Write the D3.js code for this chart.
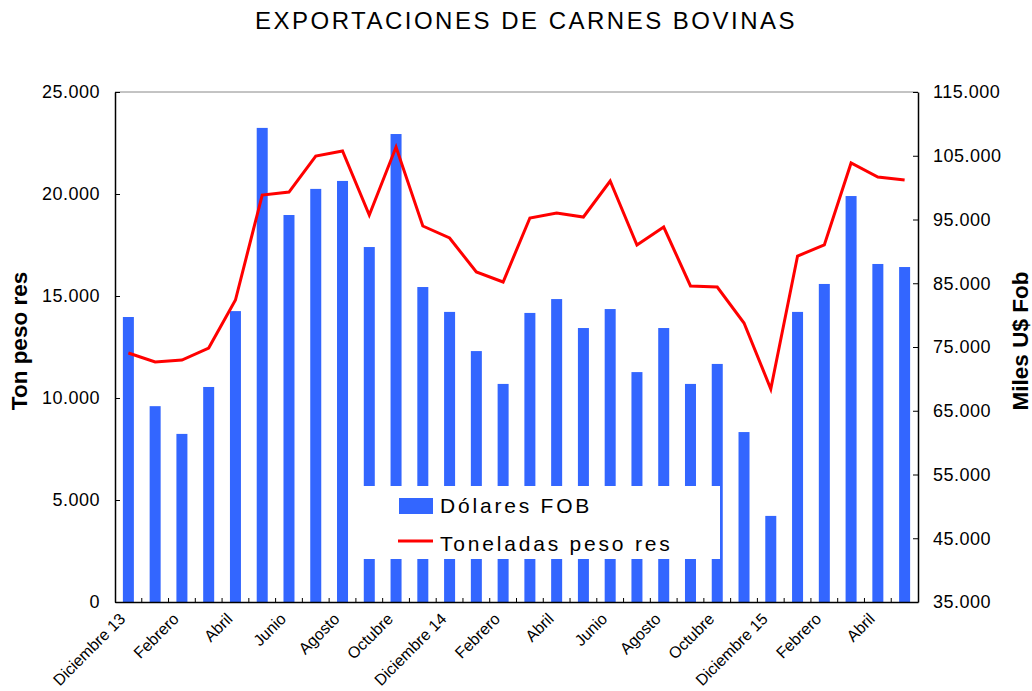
<!DOCTYPE html>
<html>
<head>
<meta charset="utf-8">
<script src="https://cdn.jsdelivr.net/npm/d3@7"></script>
<style>
body{margin:0;background:#fff;}
svg{display:block;}
text{font-family:"Liberation Sans",Arial,sans-serif;fill:#000;}
</style>
</head>
<body>
<div id="chart"></div>
<script>
"use strict"
//---Exportaciones de carnes bovinas---

var meses = ["Diciembre 13","Enero","Febrero","Marzo","Abril","Mayo","Junio","Julio","Agosto","Septiembre","Octubre","Noviembre",
	"Diciembre 14","Enero","Febrero","Marzo","Abril","Mayo","Junio","Julio","Agosto","Septiembre","Octubre","Noviembre",
	"Diciembre 15","Enero","Febrero","Marzo","Abril","Mayo"];

//barras (eje izq)
var dolaresFob = [13970,9600,8240,10540,14260,23240,18970,20250,20640,17400,22940,15440,
	14220,12300,10690,14170,14850,13430,14360,11270,13430,10690,11670,8330,
	4220,14220,15590,19900,16570,16420];

//linea (eje der)
var toneladas = [74060,72650,72960,74840,82370,98840,99310,104960,105750,95710,106370,93980,
	92100,86760,85200,95240,96020,95390,101040,91000,93820,84570,84410,78760,
	68410,89270,91000,103860,101670,101200];

var ticksIzq = [0,5000,10000,15000,20000,25000],
	ticksDer = [35000,45000,55000,65000,75000,85000,95000,105000,115000];

var margin = {top:92, right:114, bottom:89, left:115},
	W = 1032, H = 691,
	width = W - margin.left - margin.right,
	height = H - margin.top - margin.bottom;

var fmt = function(v){ return d3.format(",")(v).replace(/,/g,"."); };

var svg = d3.select('#chart').append('svg')
	.attr('width',W)
	.attr('height',H);

svg.append('text')
	.attr('x',526).attr('y',29)
	.attr('text-anchor','middle')
	.style('font-size','24px')
	.style('letter-spacing','2.5px')
	.text('EXPORTACIONES DE CARNES BOVINAS');

var g = svg.append('g').attr('transform','translate('+margin.left+','+margin.top+')');

var x = d3.scaleBand().domain(d3.range(meses.length)).range([0,width]).paddingInner(0).paddingOuter(0);
var yL = d3.scaleLinear().domain([0,25000]).range([height,0]);
var yR = d3.scaleLinear().domain([35000,115000]).range([height,0]);

var bw = 11;

g.selectAll('rect.bar')
	.data(dolaresFob)
	.enter().append('rect')
		.attr('class','bar')
		.attr('x',function(d,i){ return x(i)+x.bandwidth()/2-bw/2; })
		.attr('y',function(d){ return yL(d); })
		.attr('width',bw)
		.attr('height',function(d){ return height-yL(d); })
		.style('fill','#3366ff');

var line = d3.line()
	.x(function(d,i){ return x(i)+x.bandwidth()/2; })
	.y(function(d){ return yR(d); });

g.append('path')
	.datum(toneladas)
	.attr('d',line)
	.style('fill','none')
	.style('stroke','#ff0000')
	.style('stroke-width',3)
	.style('stroke-linejoin','miter');

// marco superior
g.append('line').attr('x1',0).attr('x2',width).attr('y1',0).attr('y2',0)
	.style('stroke','#888').style('stroke-width',1);

// leyenda
var lg = g.append('g').attr('transform','translate('+(363-margin.left)+','+(486-margin.top)+')');
lg.append('rect').attr('width',357).attr('height',73).style('fill','#fff');
lg.append('rect').attr('x',36).attr('y',12).attr('width',34).attr('height',16).style('fill','#3366ff');
lg.append('line').attr('x1',35).attr('x2',70).attr('y1',55).attr('y2',55)
	.style('stroke','#ff0000').style('stroke-width',3);
lg.append('text').attr('x',77).attr('y',27).style('font-size','21px').style('letter-spacing','2.8px').text('Dólares FOB');
lg.append('text').attr('x',77).attr('y',65).style('font-size','21px').style('letter-spacing','2.8px').text('Toneladas peso res');

// ejes
var axL = g.append('g')
	.call(d3.axisLeft(yL).tickValues(ticksIzq).tickSizeInner(-5).tickSizeOuter(0).tickPadding(15).tickFormat(fmt));
var axR = g.append('g').attr('transform','translate('+width+',0)')
	.call(d3.axisRight(yR).tickValues(ticksDer).tickSizeInner(-5).tickSizeOuter(0).tickPadding(15).tickFormat(fmt));
var axB = g.append('g').attr('transform','translate(0,'+height+')')
	.call(d3.axisBottom(x).tickValues([]).tickSizeOuter(0));

axB.selectAll('line.sep')
	.data(d3.range(1,meses.length))
	.enter().append('line')
		.attr('class','sep')
		.attr('x1',function(d){ return x(d); })
		.attr('x2',function(d){ return x(d); })
		.attr('y1',0).attr('y2',-4)
		.style('stroke','#000');

[axL,axR,axB].forEach(function(a){
	a.select('.domain').style('stroke','#000').style('stroke-width',1.5);
	a.selectAll('.tick line').style('stroke','#000');
	a.selectAll('.tick text').style('font-size','18px').style('letter-spacing','0.5px')
		.style('font-family','"Liberation Sans",Arial,sans-serif').style('fill','#000');
});

axB.selectAll('text.mes')
	.data(d3.range(0,meses.length,2))
	.enter().append('text')
		.attr('class','mes')
		.attr('text-anchor','end')
		.attr('transform',function(i){ return 'translate('+(x(i)+x.bandwidth()/2-2)+',18) rotate(-45)'; })
		.style('font-size','16px')
		.text(function(i){ return meses[i]; });

svg.append('text')
	.attr('transform','translate(27,341) rotate(-90)')
	.attr('text-anchor','middle')
	.style('font-size','22.5px').style('font-weight','bold')
	.text('Ton peso res');

svg.append('text')
	.attr('transform','translate(1028,341) rotate(-90)')
	.attr('text-anchor','middle')
	.style('font-size','22.5px').style('font-weight','bold')
	.text('Miles U$ Fob');
</script>
</body>
</html>
